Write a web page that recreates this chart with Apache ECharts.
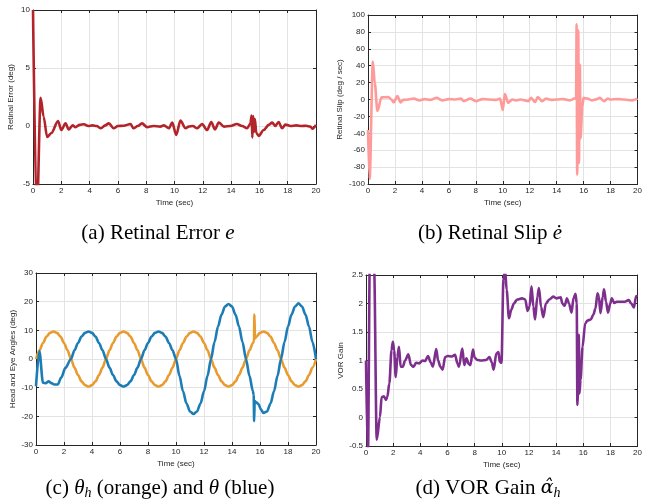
<!DOCTYPE html>
<html>
<head>
<meta charset="utf-8">
<script src="https://cdn.jsdelivr.net/npm/echarts@6/dist/echarts.min.js"></script>
<style>
  html, body { margin: 0; padding: 0; background: #fff; }
  #main { width: 645px; height: 504px; }
</style>
</head>
<body>
<div id="main"></div>
<script>
// (a) retinal error e (deg)
var errT = [0, 0.27, 0.54, 0.75, 1.0, 1.3, 1.77, 2.0, 2.3, 2.52, 2.8, 3.0, 3.3, 3.6, 3.9, 4.2, 4.5, 4.8, 5.1, 5.36, 5.7, 6.0, 6.4, 6.9, 7.1, 7.4, 7.7, 8.07, 8.5, 9.0, 9.25, 9.6, 9.84, 10.12, 10.42, 10.78, 11.0, 11.3, 11.6, 11.95, 12.3, 12.6, 12.85, 13.13, 13.5, 13.95, 14.4, 14.78, 15.13, 15.36, 15.45, 15.5, 15.56, 15.62, 15.68, 15.78, 15.95, 16.3, 16.66, 16.9, 17.13, 17.36, 17.6, 17.84, 18.2, 18.6, 19.0, 19.3, 19.6, 19.76, 20.0];
var errV = [10, -8, 2.44, 0.8, -0.95, -0.6, 0.43, -0.35, 0.23, -0.3, 0.05, -0.1, 0.1, 0.15, 0.0, 0.05, 0.0, -0.2, 0.05, 0.23, -0.2, 0.0, 0.02, 0.17, -0.2, 0.0, 0.23, -0.1, 0.0, -0.05, 0.05, -0.2, 0.3, -0.78, 0.46, -0.2, -0.05, 0.0, -0.2, 0.17, -0.35, 0.35, -0.3, 0.3, -0.05, 0.0, 0.17, 0.0, -0.2, 0.2, 0.9, -1.0, 0.85, -0.5, 0.6, -0.6, -0.85, -0.35, 0.1, 0.29, 0.0, 0.35, -0.2, 0.12, 0.0, 0.05, 0.0, 0.02, -0.05, -0.23, 0.1];

// (b) retinal slip (deg/sec)
var slipT = [0, 0.12, 0.36, 0.5, 0.7, 1.0, 1.5, 1.74, 1.9, 2.18, 2.42, 2.6, 3.0, 3.4, 3.8, 4.2, 4.6, 5.1, 5.5, 6.0, 6.5, 6.9, 7.1, 7.6, 8.0, 8.5, 9.0, 9.5, 9.8, 10.0, 10.15, 10.4, 10.7, 11.0, 11.3, 11.9, 12.1, 12.4, 12.6, 12.9, 13.2, 13.6, 14.0, 14.5, 15.0, 15.3, 15.44, 15.48, 15.52, 15.6, 15.65, 15.72, 15.77, 15.9, 16.0, 16.3, 16.6, 17.0, 17.2, 17.5, 17.8, 18.0, 18.5, 19.0, 19.6, 20.0];
var slipV = [-36, -94, 45, 20, -13.6, 2.5, 3, 0, -3.4, 4, -3.4, -0.5, 0, 1, -1, 0.5, -0.5, 2, -1, 0.5, 0, 1, -2, 1, -2, 0.5, 0, -0.5, 1, -12.5, 6.5, -4, 0, -1, 0, -2, 2, -3, 3, -2, 1, -0.5, 0, 0.5, -1, 1, 2, 89, -89, 82, -75, 41, -46, -8, 2, 1, -1, 0.5, 2, -2, 1, 0, 0.5, 0, -1, 1];

// (c) head angle theta_h (orange) and eye angle theta (blue), deg
var headT = [0, 0.25, 0.5, 0.75, 1, 1.25, 1.5, 1.75, 2, 2.25, 2.5, 2.75, 3, 3.25, 3.5, 3.75, 4, 4.25, 4.5, 4.75,
             5, 5.25, 5.5, 5.75, 6, 6.25, 6.5, 6.75, 7, 7.25, 7.5, 7.75, 8, 8.25, 8.5, 8.75, 9, 9.25, 9.5, 9.75,
             10, 10.25, 10.5, 10.75, 11, 11.25, 11.5, 11.75, 12, 12.25, 12.5, 12.75, 13, 13.25, 13.5, 13.75, 14, 14.25, 14.5, 14.75,
             15, 15.25, 15.5, 15.57, 15.6, 15.64, 15.75, 16, 16.25, 16.5, 16.75, 17, 17.25, 17.5, 17.75, 18, 18.25, 18.5, 18.75, 19, 19.25, 19.5, 19.75, 20];
var headV = [0, 3.0, 5.6, 7.8, 9.1, 9.6, 9.1, 7.8, 5.6, 3.0, 0, -3.0, -5.6, -7.8, -9.1, -9.6, -9.1, -7.8, -5.6, -3.0,
             0, 3.0, 5.6, 7.8, 9.1, 9.6, 9.1, 7.8, 5.6, 3.0, 0, -3.0, -5.6, -7.8, -9.1, -9.6, -9.1, -7.8, -5.6, -3.0,
             0, 3.0, 5.6, 7.8, 9.1, 9.6, 9.1, 7.8, 5.6, 3.0, 0, -3.0, -5.6, -7.8, -9.1, -9.6, -9.1, -7.8, -5.6, -3.0,
             0, 3.0, 5.6, 6.2, 15.5, 7.2, 7.8, 9.1, 9.6, 9.1, 7.8, 5.6, 3.0, 0, -3.0, -5.6, -7.8, -9.1, -9.6, -9.1, -7.8, -5.6, -3.0, 0];
var eyeT = [0, 0.24, 0.5, 0.7, 0.9, 1.1, 1.3, 1.55, 1.8, 2.1,
            2.5, 2.75, 3, 3.25, 3.5, 3.75, 4, 4.25, 4.5, 4.75,
            5, 5.25, 5.5, 5.75, 6, 6.25, 6.5, 6.75, 7, 7.25, 7.5, 7.75, 8, 8.25, 8.5, 8.75, 9, 9.25, 9.5, 9.75,
            10, 10.25, 10.5, 10.75, 11, 11.25, 11.5, 11.75, 12, 12.25, 12.5, 12.75, 13, 13.25, 13.5, 13.75, 14, 14.25, 14.5, 14.75,
            15, 15.25, 15.48, 15.55, 15.58, 15.62, 15.75, 15.9, 16.05, 16.25, 16.5, 16.75, 17, 17.25, 17.5, 17.75, 18, 18.25, 18.5, 18.75, 19, 19.25, 19.5, 19.75, 20];
var eyeV = [-9.5, 2.8, -8.3, -8.4, -7.8, -8.4, -8.9, -8.9, -6.5, -3.1,
            0, 3.0, 5.6, 7.8, 9.1, 9.6, 9.1, 7.8, 5.6, 3.0,
            0, -3.0, -5.6, -7.8, -9.1, -9.6, -9.1, -7.8, -5.6, -3.0, 0, 3.0, 5.6, 7.8, 9.1, 9.6, 9.1, 7.8, 5.6, 3.0,
            0, -5.9, -11.3, -15.5, -18.3, -19.2, -18.3, -15.5, -11.3, -5.9, 0, 5.9, 11.3, 15.5, 18.3, 19.2, 18.3, 15.5, 11.3, 5.9,
            0, -5.9, -11, -12.5, -21.7, -14.7, -15.2, -15.8, -17.5, -18.8, -18.3, -15.5, -11.3, -5.9, 0, 5.9, 11.3, 15.5, 18.3, 19.4, 18.3, 15.5, 11.3, 5.9, 0];

// (d) VOR gain alpha_h
var gainT = [0, 0.14, 0.3, 0.45, 0.6, 0.79, 1.03, 1.15, 1.32, 1.47, 1.57, 1.72, 1.88, 1.98, 2.07, 2.19, 2.31, 2.43, 2.55, 2.71, 2.88, 3.12, 3.31, 3.51, 3.68, 3.92, 4.16, 4.35, 4.57, 4.76, 4.93, 5.17, 5.31, 5.48, 5.64, 5.83, 6.03, 6.32, 6.56, 6.73, 6.85, 7.09, 7.24, 7.4, 7.57, 7.69, 7.88, 8.0, 8.2, 8.49, 8.85, 9.09, 9.26, 9.4, 9.6, 9.76, 9.85, 9.98, 10.12, 10.24, 10.36, 10.53, 10.7, 10.89, 11.13, 11.49, 11.73, 11.9, 12.04, 12.19, 12.33, 12.45, 12.62, 12.74, 12.89, 13.06, 13.25, 13.5, 13.79, 14.03, 14.34, 14.46, 14.63, 14.8, 14.95, 15.14, 15.28, 15.43, 15.52, 15.57, 15.62, 15.67, 15.72, 15.8, 15.95, 16.14, 16.31, 16.55, 16.74, 16.9, 17.05, 17.15, 17.27, 17.44, 17.53, 17.68, 17.82, 17.99, 18.1, 18.29, 18.46, 18.7, 19.06, 19.35, 19.54, 19.73, 19.9, 20];
var gainV = [1.0, -0.7, 3.2, 3.5, 2.6, -0.39, 0.01, 0.36, 0.37, 0.31, 0.36, 0.6, 1.18, 1.33, 1.18, 0.71, 1.06, 1.24, 0.89, 0.89, 1.0, 1.11, 0.92, 0.89, 0.96, 0.95, 1.0, 0.99, 1.08, 0.97, 0.89, 1.2, 1.0, 0.89, 0.84, 1.06, 1.08, 1.07, 1.1, 0.95, 0.89, 1.21, 0.92, 1.04, 0.94, 0.92, 1.19, 1.05, 1.01, 1.0, 1.01, 1.06, 0.97, 0.84, 1.12, 1.15, 0.98, 0.96, 2.41, 2.6, 2.24, 1.74, 1.89, 2.0, 2.07, 2.09, 2.07, 1.87, 1.94, 2.3, 1.94, 1.72, 2.12, 2.27, 1.94, 1.76, 2.0, 2.07, 2.12, 2.09, 2.11, 2.0, 1.96, 2.09, 2.0, 1.84, 2.09, 2.17, 2.0, 0.22, 0.5, 1.45, 0.42, 0.66, 1.24, 1.65, 1.7, 1.72, 1.8, 1.91, 2.18, 2.12, 1.83, 2.12, 2.25, 2.03, 1.84, 2.0, 2.09, 2.01, 2.03, 2.03, 2.03, 2.06, 2.0, 1.93, 2.13, 2.12];

var TXT = '#262626';
var SANS = '"Liberation Sans", Arial, sans-serif';
var SERIF = '"Liberation Serif", "Times New Roman", serif';

function pairs(t, v) {
    var out = [];
    for (var i = 0; i < t.length && i < v.length; i++) out.push([t[i], v[i]]);
    return out;
}

var grids = [
    { left: 33, top: 10, width: 283, height: 174 },
    { left: 368, top: 15, width: 275, height: 169 },
    { left: 36, top: 273, width: 280, height: 172 },
    { left: 366, top: 275, width: 277, height: 171 }
];
var yRanges = [[-5, 10, 5], [-100, 100, 20], [-30, 30, 10], [-0.5, 2.5, 0.5]];
var yNames = ['Retinal Error (deg)', 'Retinal Slip (deg / sec)', 'Head and Eye Angles (deg)', 'VOR Gain'];
var yGaps = [18, 24, 19, 21];

var xAxes = [], yAxes = [];
for (var g = 0; g < 4; g++) {
    xAxes.push({
        type: 'value', gridIndex: g, position: 'bottom', min: 0, max: 20, interval: 2,
        name: 'Time (sec)', nameLocation: 'middle', nameGap: 15,
        nameTextStyle: { fontFamily: SANS, fontSize: 8, color: TXT },
        axisLine: { onZero: false, lineStyle: { color: TXT, width: 1 } },
        axisTick: { inside: true, length: 3, lineStyle: { color: TXT } },
        axisLabel: { fontFamily: SANS, fontSize: 8, color: TXT, margin: 3, showMinLabel: true, showMaxLabel: true },
        splitLine: { show: true, lineStyle: { color: '#e3e3e3', width: 1 } }
    });
    yAxes.push({
        type: 'value', gridIndex: g, position: 'left', min: yRanges[g][0], max: yRanges[g][1], interval: yRanges[g][2],
        name: yNames[g], nameLocation: 'middle', nameRotate: 90, nameGap: yGaps[g],
        nameTextStyle: { fontFamily: SANS, fontSize: 8, color: TXT },
        axisLine: { onZero: false, lineStyle: { color: TXT, width: 1 } },
        axisTick: { inside: true, length: 3, lineStyle: { color: TXT } },
        axisLabel: { fontFamily: SANS, fontSize: 8, color: TXT, margin: 3, showMinLabel: true, showMaxLabel: true },
        splitLine: { show: true, lineStyle: { color: '#e3e3e3', width: 1 } }
    });
}
// box: top and right axes with inner ticks only
for (var g = 0; g < 4; g++) {
    xAxes.push({
        type: 'value', gridIndex: g, position: 'top', min: 0, max: 20, interval: 2,
        axisLine: { onZero: false, lineStyle: { color: TXT, width: 1 } },
        axisTick: { inside: true, length: 3, lineStyle: { color: TXT } },
        axisLabel: { show: false }, splitLine: { show: false }
    });
    yAxes.push({
        type: 'value', gridIndex: g, position: 'right', min: yRanges[g][0], max: yRanges[g][1], interval: yRanges[g][2],
        axisLine: { onZero: false, lineStyle: { color: TXT, width: 1 } },
        axisTick: { inside: true, length: 3, lineStyle: { color: TXT } },
        axisLabel: { show: false }, splitLine: { show: false }
    });
}

function line(g, data, color) {
    return {
        type: 'line', xAxisIndex: g, yAxisIndex: g, data: data,
        showSymbol: false, smooth: 0.3, smoothMonotone: 'x', clip: true,
        lineStyle: { color: color, width: 2.6 }
    };
}

function caption(x, y, text) {
    return {
        type: 'text', x: x, y: y,
        style: {
            text: text, textAlign: 'center', textVerticalAlign: 'middle', fill: '#000',
            rich: {
                n: { fontFamily: SERIF, fontSize: 21, fill: '#000', lineHeight: 24 },
                i: { fontFamily: SERIF, fontSize: 21, fontStyle: 'italic', fill: '#000', lineHeight: 24 },
                a: { fontFamily: '"DejaVu Serif", serif', fontSize: 19, fontStyle: 'italic', fill: '#000', lineHeight: 24 },
                s: { fontFamily: SERIF, fontSize: 14, fontStyle: 'italic', fill: '#000', lineHeight: 9, verticalAlign: 'bottom' }
            }
        }
    };
}

var option = {
    animation: false,
    backgroundColor: '#fff',
    grid: grids,
    xAxis: xAxes,
    yAxis: yAxes,
    series: [
        line(0, pairs(errT, errV), '#B2242A'),
        line(1, pairs(slipT, slipV), '#FF9A9A'),
        line(2, pairs(headT, headV), '#EA9B30'),
        line(2, pairs(eyeT, eyeV), '#1C7DB6'),
        line(3, pairs(gainT, gainV), '#7E2F8E')
    ],
    graphic: [
        caption(158, 233, '{n|(a) Retinal Error }{i|e}'),
        caption(490, 233, '{n|(b) Retinal Slip }{i|\u0117}'),
        caption(160, 488, '{n|(c) }{i|\u03B8}{s|h}{n| (orange) and }{i|\u03B8}{n| (blue)}'),
        caption(488, 488, '{n|(d) VOR Gain }{a|\u03B1\u0302}{s|h}')
    ]
};

var myChart = echarts.init(document.getElementById('main'), null, { renderer: 'canvas' });
myChart.setOption(option);
</script>
</body>
</html>
